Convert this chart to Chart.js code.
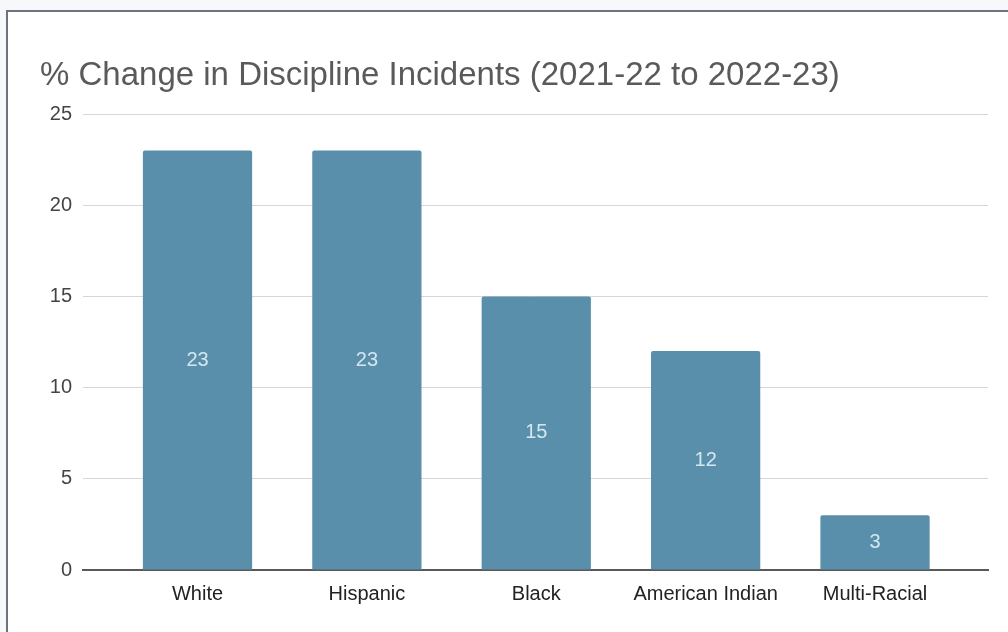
<!DOCTYPE html>
<html>
<head>
<meta charset="utf-8">
<script src="https://cdn.jsdelivr.net/npm/chart.js@4.4.0/dist/chart.umd.min.js"></script>
<style>
  html, body { margin: 0; padding: 0; background: #f7f8f9; }
  #wrap { position: relative; width: 1008px; height: 632px; overflow: hidden; }
  #frame { position: absolute; left: 6px; top: 10px; width: 1100px; height: 700px;
           border-left: 2px solid #6b7280; border-top: 2px solid #6b7280; background: #fff; }
  #c { position: absolute; left: 0; top: 0; }
</style>
</head>
<body>
<div id="wrap">
  <div id="frame"></div>
  <canvas id="c" width="1008" height="632"></canvas>
</div>
<script>
const chartTitle = "% Change in Discipline Incidents (2021-22 to 2022-23)";
const categories = ["White", "Hispanic", "Black", "American Indian", "Multi-Racial"];
const values = [23, 23, 15, 12, 3];
const yTicks = [0, 5, 10, 15, 20, 25];

const FONT = "'Liberation Sans', Arial, sans-serif";

const titlePlugin = {
  id: 'customTitle',
  afterDraw(chart) {
    const ctx = chart.ctx;
    ctx.save();
    ctx.font = "33px " + FONT;
    ctx.fillStyle = "#5a5a5a";
    ctx.textAlign = "left";
    ctx.textBaseline = "middle";
    ctx.fillText(chartTitle, 40, 76);
    ctx.restore();
  }
};

const valueLabels = {
  id: 'valueLabels',
  afterDatasetsDraw(chart) {
    const ctx = chart.ctx;
    const meta = chart.getDatasetMeta(0);
    ctx.save();
    ctx.font = "20px " + FONT;
    ctx.fillStyle = "#d3e7f1";
    ctx.textAlign = "center";
    ctx.textBaseline = "middle";
    meta.data.forEach((bar, i) => {
      const yMid = (bar.y + bar.base) / 2;
      ctx.fillText(String(values[i]), bar.x, yMid);
    });
    ctx.restore();
  }
};

new Chart(document.getElementById('c'), {
  type: 'bar',
  data: {
    datasets: [{
      data: values.map((v, i) => ({ x: i, y: v })),
      backgroundColor: '#5a8fab',
      borderRadius: 2,
      borderSkipped: 'start',
      barPercentage: 0.645,
      categoryPercentage: 1
    }]
  },
  options: {
    responsive: false,
    animation: false,
    devicePixelRatio: 1,
    layout: { padding: { left: 0, right: 20, top: 114, bottom: 20 } },
    plugins: { legend: { display: false }, title: { display: false }, tooltip: { enabled: false } },
    scales: {
      x: {
        type: 'linear',
        offset: false,
        min: -0.676,
        max: 4.667,
        afterBuildTicks(scale) { scale.ticks = categories.map((c, i) => ({ value: i })); },
        afterFit(scale) { scale.height = 42; },
        ticks: {
          autoSkip: false,
          maxRotation: 0,
          padding: 12,
          color: '#222',
          font: { family: FONT, size: 20 },
          callback: (v) => categories[v]
        },
        grid: { display: false, drawTicks: false, offset: false },
        border: { display: true, color: '#595959', width: 2 }
      },
      y: {
        min: 0,
        max: 25,
        afterBuildTicks(scale) { scale.ticks = yTicks.map(v => ({ value: v })); },
        afterFit(scale) { scale.width = 83; },
        ticks: {
          padding: 11,
          color: '#444',
          font: { family: FONT, size: 20 }
        },
        grid: { color: '#d6d6d6', lineWidth: 1, drawTicks: false },
        border: { display: false }
      }
    }
  },
  plugins: [titlePlugin, valueLabels]
});
</script>
</body>
</html>
